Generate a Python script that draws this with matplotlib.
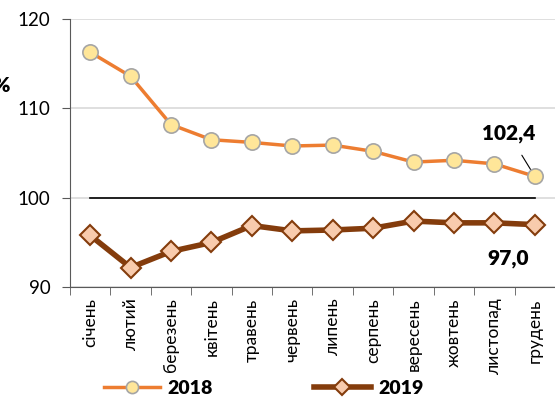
import numpy as np
import matplotlib.pyplot as plt

months = ["січень", "лютий", "березень", "квітень", "травень", "червень",
          "липень", "серпень", "вересень", "жовтень", "листопад", "грудень"]
v2018 = [116.3, 113.6, 108.2, 106.5, 106.2, 105.8, 105.9, 105.2, 104.0, 104.2, 103.8, 102.4]
v2019 = [95.8, 92.2, 94.0, 95.0, 96.9, 96.3, 96.4, 96.6, 97.4, 97.2, 97.2, 97.0]

plt.rcParams['font.family'] = ['Lato', 'DejaVu Sans']

fig = plt.figure(figsize=(5.55, 4.15), dpi=100)
ax = fig.add_axes([0.126, 0.308, 0.874, 0.646])

x = np.arange(len(months))

ax.plot(x, v2018, color="#ED7D31", lw=2.5, marker="o", ms=11,
        mfc="#FFE699", mec="#A5A5A5", mew=1.2, label="2018", zorder=4)
ax.plot(x, v2019, color="#843C0C", lw=4, marker="D", ms=10,
        mfc="#F8CBAD", mec="#843C0C", mew=1.5, label="2019", zorder=4)
ax.plot([x[0], x[-1]], [100, 100], color="black", lw=1.2, zorder=3)

ax.set_ylim(90, 120)
ax.set_yticks([90, 100, 110, 120])
ax.set_xlim(-0.5, len(months) - 0.5)
ax.set_xticks(x)
ax.set_xticklabels(months, rotation=90, fontsize=12.5)
ax.set_xticks(np.arange(-0.5, len(months)), minor=True)
ax.tick_params(axis="x", which="major", length=0, pad=8)
ax.tick_params(axis="x", which="minor", length=6, color="#595959")
ax.tick_params(axis="y", length=6, color="#595959", labelsize=13.5, pad=8)
ax.grid(axis="y", color="#D9D9D9", lw=1.2)
ax.set_axisbelow(True)
for s in ["top", "right"]:
    ax.spines[s].set_visible(False)
ax.spines["left"].set_color("#595959")
ax.spines["bottom"].set_color("#595959")

ax.annotate("102,4", xy=(x[-1], v2018[-1]), xytext=(10.35, 107.2),
            fontsize=15, fontweight="heavy", ha="center", va="center",
            arrowprops=dict(arrowstyle="-", color="black", lw=0.8,
                            shrinkA=8, shrinkB=2))
ax.text(10.35, 93.2, "97,0", fontsize=15, fontweight="heavy", ha="center", va="center")

fig.text(0.002, 0.795, "%", fontsize=15, fontweight="heavy", ha="center", va="center")

leg = fig.legend(loc="center", bbox_to_anchor=(0.475, 0.065), ncol=2, frameon=False,
                 handlelength=2.9, columnspacing=5.2, handletextpad=0.4, markerscale=0.8,
                 prop={"size": 14, "weight": "heavy"})

fig.savefig("out.png", dpi=100)
